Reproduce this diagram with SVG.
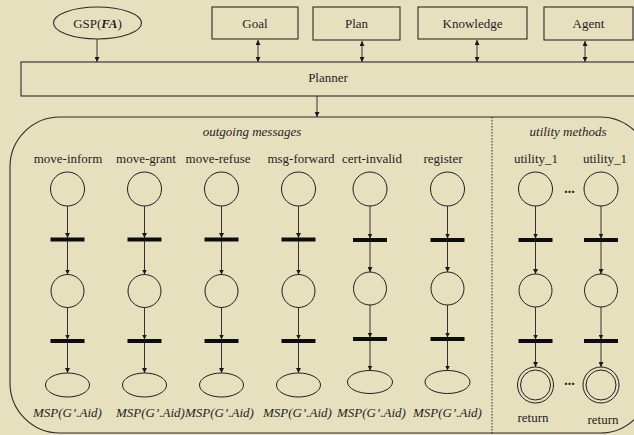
<svg xmlns="http://www.w3.org/2000/svg" width="634" height="435" viewBox="0 0 634 435">
<defs>
<marker id="ah" markerWidth="5" markerHeight="5" refX="5" refY="2.5" orient="auto-start-reverse" markerUnits="userSpaceOnUse">
<path d="M0,0 L5,2.5 L0,5 z" fill="#1a1a1a"/>
</marker>
</defs>
<style>
.t{font-family:"Liberation Serif","Times New Roman",serif;font-size:13px;fill:#1e1e1e;text-anchor:middle}
.i{font-style:italic}
.box{fill:none;stroke:#2a2a2a;stroke-width:1.1}
.pl{fill:none;stroke:#1e1e1e;stroke-width:1}
.bar{fill:#0d0d0d}
.cn{stroke:#1e1e1e;stroke-width:0.9;fill:none;marker-end:url(#ah)}
.dbl{marker-start:url(#ah)}
.dots{font-family:"Liberation Serif",serif;font-size:14px;font-weight:bold;fill:#1e1e1e;text-anchor:middle}
</style>
<rect width="634" height="435" fill="#e7e0bf"/>

<g id="gsp"><ellipse class="box" cx="97.5" cy="23" rx="44" ry="16"/><text class="t" x="97.5" y="27.5">GSP(<tspan font-weight="bold" font-style="italic">FA</tspan>)</text></g>
<g id="goal"><rect class="box" x="212" y="7" width="86" height="32"/><text class="t" x="255" y="27.5">Goal</text></g>
<g id="plan"><rect class="box" x="313" y="7" width="87" height="33"/><text class="t" x="356.5" y="27.5">Plan</text></g>
<g id="knowledge"><rect class="box" x="418" y="7" width="109" height="32"/><text class="t" x="472.5" y="27.5">Knowledge</text></g>
<g id="agent"><rect class="box" x="544" y="7" width="89" height="33"/><text class="t" x="588.5" y="27.5">Agent</text></g>
<g id="planner"><rect class="box" x="21" y="62" width="625" height="34"/><text class="t" x="328" y="82">Planner</text></g>

<g id="container">
<rect class="box" x="10" y="117" width="640" height="316" rx="50" ry="50"/>
<line x1="492" y1="117" x2="492" y2="435" stroke="#2a2a2a" stroke-width="1" stroke-dasharray="1.5,1.5"/>
<text class="t i" x="252" y="136">outgoing messages</text>
<text class="t i" x="568" y="136">utility methods</text>
</g>

<g id="col-move-inform">
<text class="t" x="68" y="163">move-inform</text>
<circle class="pl" cx="67.5" cy="189" r="17"/>
<rect class="bar" x="50.5" y="237.5" width="34" height="4"/>
<circle class="pl" cx="67.5" cy="291" r="16.5"/>
<rect class="bar" x="50.5" y="339" width="34" height="4"/>
<ellipse class="pl" cx="67.5" cy="385" rx="22" ry="12"/>
<text class="t i" x="33" y="417" text-anchor="start" style="text-anchor:start">MSP(G’.Aid)</text>
</g>
<g id="col-move-grant">
<text class="t" x="146" y="163">move-grant</text>
<circle class="pl" cx="144.5" cy="189" r="17"/>
<rect class="bar" x="127.5" y="237.5" width="34" height="4"/>
<circle class="pl" cx="144.5" cy="291" r="16.5"/>
<rect class="bar" x="127.5" y="339" width="34" height="4"/>
<ellipse class="pl" cx="144.5" cy="385" rx="22" ry="12"/>
<text class="t i" x="116" y="417" style="text-anchor:start">MSP(G’.Aid)</text>
</g>
<g id="col-move-refuse">
<text class="t" x="218" y="163">move-refuse</text>
<circle class="pl" cx="221.5" cy="189" r="17"/>
<rect class="bar" x="204.5" y="237.5" width="34" height="4"/>
<circle class="pl" cx="221.5" cy="291" r="16.5"/>
<rect class="bar" x="204.5" y="339" width="34" height="4"/>
<ellipse class="pl" cx="221.5" cy="385" rx="22" ry="12"/>
<text class="t i" x="185" y="417" style="text-anchor:start">MSP(G’.Aid)</text>
</g>
<g id="col-msg-forward">
<text class="t" x="301" y="163">msg-forward</text>
<circle class="pl" cx="298.5" cy="189" r="17"/>
<rect class="bar" x="281.5" y="237.5" width="34" height="4"/>
<circle class="pl" cx="298.5" cy="291" r="16.5"/>
<rect class="bar" x="281.5" y="339" width="34" height="4"/>
<ellipse class="pl" cx="298.5" cy="385" rx="22" ry="12"/>
<text class="t i" x="263" y="417" style="text-anchor:start">MSP(G’.Aid)</text>
</g>
<g id="col-cert-invalid">
<text class="t" x="372" y="163">cert-invalid</text>
<circle class="pl" cx="370" cy="189" r="17"/>
<rect class="bar" x="353" y="238" width="34" height="4"/>
<circle class="pl" cx="370" cy="288.5" r="16.5"/>
<rect class="bar" x="353" y="337" width="34" height="4"/>
<ellipse class="pl" cx="370" cy="382" rx="22.5" ry="11.5"/>
<text class="t i" x="337" y="417" style="text-anchor:start">MSP(G’.Aid)</text>
</g>
<g id="col-register">
<text class="t" x="443" y="163">register</text>
<circle class="pl" cx="447.5" cy="189" r="17"/>
<rect class="bar" x="430.5" y="238" width="34" height="4"/>
<circle class="pl" cx="447.5" cy="288.5" r="16.5"/>
<rect class="bar" x="430.5" y="337" width="34" height="4"/>
<ellipse class="pl" cx="447.5" cy="382" rx="22.5" ry="11.5"/>
<text class="t i" x="413" y="417" style="text-anchor:start">MSP(G’.Aid)</text>
</g>
<g id="col-utility-a">
<text class="t" x="536" y="163">utility_1</text>
<circle class="pl" cx="535.5" cy="189" r="17"/>
<rect class="bar" x="518.5" y="238" width="34" height="4"/>
<circle class="pl" cx="535.5" cy="290.5" r="16.5"/>
<rect class="bar" x="518.5" y="339" width="34" height="4"/>
<circle class="pl" cx="535.5" cy="385" r="18"/>
<circle class="pl" cx="535.5" cy="385" r="15"/>
<text class="t" x="533" y="422">return</text>
</g>
<g id="col-utility-b">
<text class="t" x="605" y="163">utility_1</text>
<circle class="pl" cx="601" cy="189" r="17"/>
<rect class="bar" x="584" y="238" width="34" height="4"/>
<circle class="pl" cx="601" cy="290.5" r="16.5"/>
<rect class="bar" x="584" y="339" width="34" height="4"/>
<circle class="pl" cx="601" cy="385" r="18"/>
<circle class="pl" cx="601" cy="385" r="15"/>
<text class="t" x="603" y="424">return</text>
</g>
<g id="ellipses">
<text class="dots" x="569.5" y="193">...</text>
<text class="dots" x="569.5" y="385">...</text>
</g>

<g id="connectors">
<line class="cn" x1="97" y1="39" x2="97" y2="62"/>
<line class="cn dbl" x1="258" y1="40" x2="258" y2="62"/>
<line class="cn dbl" x1="362" y1="41" x2="362" y2="62"/>
<line class="cn dbl" x1="477" y1="40" x2="477" y2="62"/>
<line class="cn dbl" x1="585" y1="41" x2="585" y2="62"/>
<line class="cn" x1="317" y1="96" x2="317" y2="117"/>
<!-- col 1-4 -->
<line class="cn" x1="67.5" y1="206" x2="67.5" y2="238"/><line class="cn" x1="67.5" y1="241" x2="67.5" y2="274.5"/><line class="cn" x1="67.5" y1="307.5" x2="67.5" y2="339.5"/><line class="cn" x1="67.5" y1="343" x2="67.5" y2="373"/>
<line class="cn" x1="144.5" y1="206" x2="144.5" y2="238"/><line class="cn" x1="144.5" y1="241" x2="144.5" y2="274.5"/><line class="cn" x1="144.5" y1="307.5" x2="144.5" y2="339.5"/><line class="cn" x1="144.5" y1="343" x2="144.5" y2="373"/>
<line class="cn" x1="221.5" y1="206" x2="221.5" y2="238"/><line class="cn" x1="221.5" y1="241" x2="221.5" y2="274.5"/><line class="cn" x1="221.5" y1="307.5" x2="221.5" y2="339.5"/><line class="cn" x1="221.5" y1="343" x2="221.5" y2="373"/>
<line class="cn" x1="298.5" y1="206" x2="298.5" y2="238"/><line class="cn" x1="298.5" y1="241" x2="298.5" y2="274.5"/><line class="cn" x1="298.5" y1="307.5" x2="298.5" y2="339.5"/><line class="cn" x1="298.5" y1="343" x2="298.5" y2="373"/>
<!-- col 5-6 -->
<line class="cn" x1="370" y1="206" x2="370" y2="238.5"/><line class="cn" x1="370" y1="242" x2="370" y2="272"/><line class="cn" x1="370" y1="305" x2="370" y2="337.5"/><line class="cn" x1="370" y1="341" x2="370" y2="370.5"/>
<line class="cn" x1="447.5" y1="206" x2="447.5" y2="238.5"/><line class="cn" x1="447.5" y1="242" x2="447.5" y2="272"/><line class="cn" x1="447.5" y1="305" x2="447.5" y2="337.5"/><line class="cn" x1="447.5" y1="341" x2="447.5" y2="370.5"/>
<!-- utility -->
<line class="cn" x1="535.5" y1="206" x2="535.5" y2="238.5"/><line class="cn" x1="535.5" y1="242" x2="535.5" y2="274"/><line class="cn" x1="535.5" y1="307" x2="535.5" y2="339.5"/><line class="cn" x1="535.5" y1="343" x2="535.5" y2="367"/>
<line class="cn" x1="601" y1="206" x2="601" y2="238.5"/><line class="cn" x1="601" y1="242" x2="601" y2="274"/><line class="cn" x1="601" y1="307" x2="601" y2="339.5"/><line class="cn" x1="601" y1="343" x2="601" y2="367"/>
</g>
</svg>
